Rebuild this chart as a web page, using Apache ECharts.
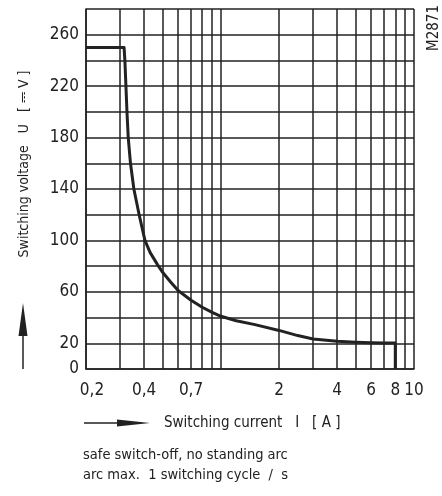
<!DOCTYPE html>
<html>
<head>
<meta charset="utf-8">
<script src="https://cdn.jsdelivr.net/npm/echarts@6/dist/echarts.min.js"></script>
<style>
html,body{margin:0;padding:0;background:#fff;}
#chart{width:442px;height:496px;}
</style>
</head>
<body>
<div id="chart"></div>
<script>
// Switching current I [A]
var currentA = [0.2, 0.315, 0.318, 0.322, 0.326, 0.331, 0.34, 0.354, 0.377, 0.404, 0.43, 0.47, 0.5, 0.55, 0.6, 0.7, 0.8, 0.9, 1.0, 1.2, 1.5, 2, 2.5, 3, 4, 5, 6, 7, 8, 8];
// Switching voltage U [V]
var voltageV = [250, 250, 240, 220, 200, 180, 160, 140, 120, 100, 90.5, 81, 75, 67.5, 61, 53.5, 48, 44, 41, 37.5, 34.5, 30, 26, 23.3, 21.6, 20.9, 20.5, 20.3, 20.2, 0];

var xGridValues = [0.2, 0.3, 0.4, 0.5, 0.6, 0.7, 0.8, 0.9, 1, 2, 3, 4, 5, 6, 7, 8, 9, 10];
var xLabelValues = [0.2, 0.4, 0.7, 2, 4, 6, 8, 10];
var xLabelTexts = ['0,2', '0,4', '0,7', '2', '4', '6', '8', '10'];
var yLabelValues = [0, 20, 60, 100, 140, 180, 220, 260];

var FONT = '"Liberation Sans Narrow", "DejaVu Sans Condensed", "Liberation Sans", sans-serif';
var INK = '#222';

var chart = echarts.init(document.getElementById('chart'), null, {renderer: 'canvas'});

var seriesData = currentA.map(function (c, i) { return [Math.log10(c), voltageV[i]]; });

chart.setOption({
  animation: false,
  backgroundColor: '#fff',
  grid: {left: 86, right: 28, top: 9, bottom: 127, containLabel: false},
  xAxis: {
    type: 'value',
    min: Math.log10(0.2),
    max: 1,
    axisLine: {show: true, onZero: false, lineStyle: {color: INK, width: 1.5}},
    axisTick: {show: false, customValues: xGridValues.map(function (v) { return Math.log10(v); })},
    splitLine: {show: true, lineStyle: {color: INK, width: 1.5}},
    axisLabel: {
      customValues: xLabelValues.map(function (v) { return Math.log10(v); }),
      margin: 13,
      color: INK,
      fontFamily: FONT,
      fontSize: 17,
      formatter: function (v) {
        var real = Math.pow(10, v), best = 0;
        for (var i = 1; i < xLabelValues.length; i++) {
          if (Math.abs(xLabelValues[i] - real) < Math.abs(xLabelValues[best] - real)) best = i;
        }
        return best === 0 ? '{first|' + xLabelTexts[best] + '}' : xLabelTexts[best];
      },
      rich: {first: {padding: [0, 0, 0, 12], fontFamily: FONT, fontSize: 17, color: INK}}
    }
  },
  yAxis: {
    type: 'value',
    min: 0,
    max: 280,
    interval: 20,
    axisLine: {show: true, onZero: false, lineStyle: {color: INK, width: 1.5}},
    axisTick: {show: false},
    splitLine: {show: true, lineStyle: {color: INK, width: 1.5}},
    axisLabel: {
      margin: 7,
      color: INK,
      fontFamily: FONT,
      fontSize: 17,
      formatter: function (v) { return yLabelValues.indexOf(v) >= 0 ? String(v) : ''; }
    }
  },
  series: [{
    type: 'line',
    data: seriesData,
    showSymbol: false,
    symbol: 'none',
    lineStyle: {color: INK, width: 3, join: 'round'},
    z: 5
  }],
  graphic: [
    {type: 'text', x: 24, y: 164, rotation: Math.PI / 2,
      style: {text: 'Switching voltage   U   [ \u2393 V ]', fill: INK, font: '14px ' + FONT, align: 'center', verticalAlign: 'middle'}},
    {type: 'line', shape: {x1: 23, y1: 369, x2: 23, y2: 330}, style: {stroke: INK, lineWidth: 1.5}},
    {type: 'polygon', shape: {points: [[23, 303], [18.5, 336], [27.5, 336]]}, style: {fill: INK}},
    {type: 'line', shape: {x1: 84, y1: 423, x2: 120, y2: 423}, style: {stroke: INK, lineWidth: 1.5}},
    {type: 'polygon', shape: {points: [[150, 423], [117, 419.5], [117, 426.5]]}, style: {fill: INK}},
    {type: 'text', x: 164, y: 423,
      style: {text: 'Switching current   I   [ A ]', fill: INK, font: '15px ' + FONT, align: 'left', verticalAlign: 'middle'}},
    {type: 'text', x: 83, y: 455,
      style: {text: 'safe switch-off, no standing arc', fill: INK, font: '14.5px ' + FONT, align: 'left', verticalAlign: 'middle'}},
    {type: 'text', x: 83, y: 475,
      style: {text: 'arc max.  1 switching cycle  /  s', fill: INK, font: '14.5px ' + FONT, align: 'left', verticalAlign: 'middle'}},
    {type: 'text', x: 434, y: 28, rotation: Math.PI / 2,
      style: {text: 'M2871', fill: INK, font: '15px ' + FONT, align: 'center', verticalAlign: 'middle'}}
  ]
});
</script>
</body>
</html>
